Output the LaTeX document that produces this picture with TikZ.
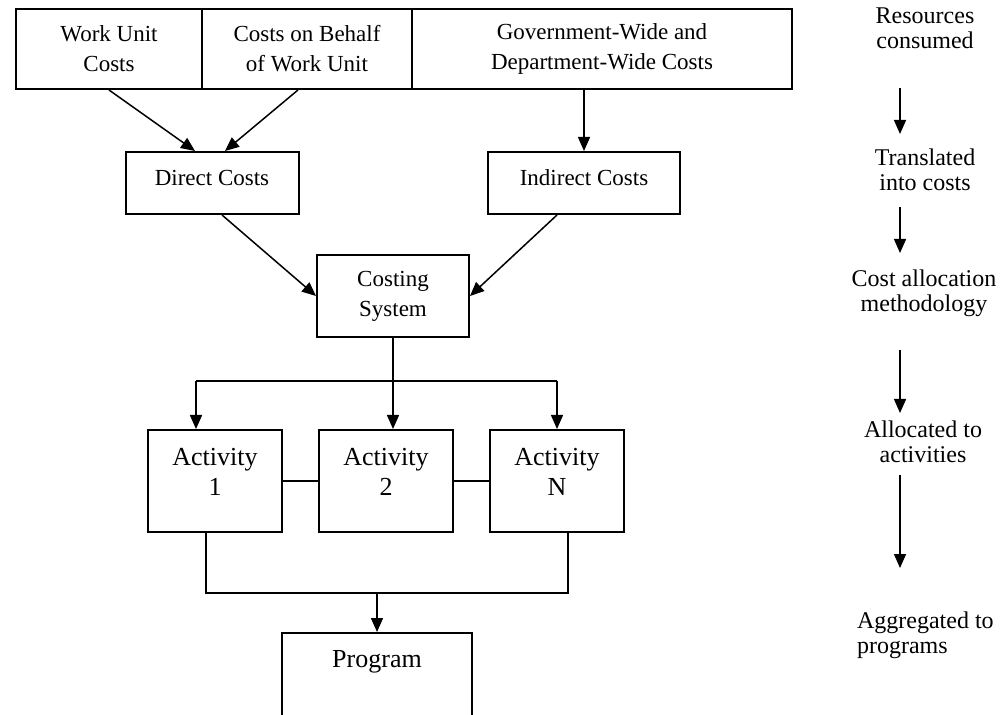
\documentclass[tikz,border=0pt]{standalone}
\usepackage{fontspec}
\setmainfont{Liberation Serif}
\usetikzlibrary{arrows.meta,positioning,calc}

\begin{document}
\begin{tikzpicture}[x=0.5pt, y=-0.5pt, >={Triangle[length=7pt,width=6pt]},
  box/.style={draw, line width=1pt, inner sep=0pt, align=center,
    font=\fontsize{11.5}{15}\selectfont},
  actbox/.style={draw, line width=1pt, inner sep=0pt,
    minimum width=67pt, minimum height=51pt},
  acttext/.style={align=center, font=\fontsize{13}{15}\selectfont},
  side/.style={align=center, font=\fontsize{12}{12.5}\selectfont},
  line/.style={line width=0.75pt}]

  \useasboundingbox (0,0) rectangle (1005,715);
  \clip (0,0) rectangle (1005,715);

  % Define coordinates for nodes
  \node[box, minimum width=93pt, minimum height=40pt] (wu) at (109,49) {Work Unit\\Costs};
  \node[box, minimum width=105pt, minimum height=40pt] (cb) at (307,49) {Costs on Behalf\\of Work Unit};
  \node[box, minimum width=190pt, minimum height=40pt] (gw) at (602,49) {Government-Wide and\\Department-Wide Costs};
  \node[box, minimum width=86.5pt, minimum height=31pt] (dc) at (212,183) {};
  \node[box, minimum width=96pt, minimum height=31pt] (ic) at (584,183) {};
  \node[box, draw=none] (dct) at (212,178) {Direct Costs};
  \node[box, draw=none] (ict) at (584,178) {Indirect Costs};
  \node[box, minimum width=76pt, minimum height=41pt] (cs) at (393,296) {Costing\\System};
  \node[actbox] (a1) at (215,481) {};
  \node[actbox] (a2) at (386,481) {};
  \node[actbox] (an) at (557,481) {};
  \node[acttext] (a1t) at (215,472) {Activity\\1};
  \node[acttext] (a2t) at (386,472) {Activity\\2};
  \node[acttext] (ant) at (557,472) {Activity\\N};
  \node[draw, line width=1pt, minimum width=95pt, minimum height=80pt] (pg) at (377,713) {};
  \node[acttext] (pgt) at (377,662) {Program};
  \coordinate (spl) at (390,381);
  \coordinate (mrg) at (377,593);

  % Right column
  \node[side] (r1) at (925,28) {Resources\\consumed};
  \node[side] (r2) at (925,170) {Translated\\into costs};
  \node[side] (r3) at (924,293) {Cost allocation\\methodology};
  \node[side] (r4) at (923,442) {Allocated to\\activities};
  \node[side, align=left, anchor=west] (r5) at (850,635) {Aggregated to\\programs};

  % Draw arrows between nodes
  \draw[->, line] (wu.south) -- ([xshift=-8.5pt]dc.north);
  \draw[->, line] ([xshift=-4.5pt]cb.south) -- ([xshift=6.5pt]dc.north);
  \draw[->, line] (gw.south -| ic.north) -- (ic.north);
  \draw[->, line] ([xshift=5pt]dc.south) -- (cs.west);
  \draw[->, line] ([xshift=-13.5pt]ic.south) -- (cs.east);
  \draw[line] (cs.south) -- (cs.south |- spl);
  \draw[line] ([xshift=-9.5pt]a1.north |- spl) -- (an.north |- spl);
  \draw[->, line] ([xshift=-9.5pt]a1.north |- spl) -- ([xshift=-9.5pt]a1.north);
  \draw[->, line] (cs.south |- spl) -- (cs.south |- a2.north);
  \draw[->, line] (an.north |- spl) -- (an.north);
  \draw[line] (a1.east) -- (a2.west);
  \draw[line] (a2.east) -- (an.west);
  \draw[line] ([xshift=-4.5pt]a1.south) |- (mrg) -| ([xshift=5.5pt]an.south);
  \draw[->, line] (mrg) -- (pg.north);
  \foreach \i/\a/\b in {1/88/134, 2/207/253, 3/350/413, 4/475/568} {
    \coordinate (s\i) at (900,\a);
    \coordinate (e\i) at (900,\b);
    \draw[->, line] (s\i) -- (e\i);
  }
\end{tikzpicture}
\end{document}
